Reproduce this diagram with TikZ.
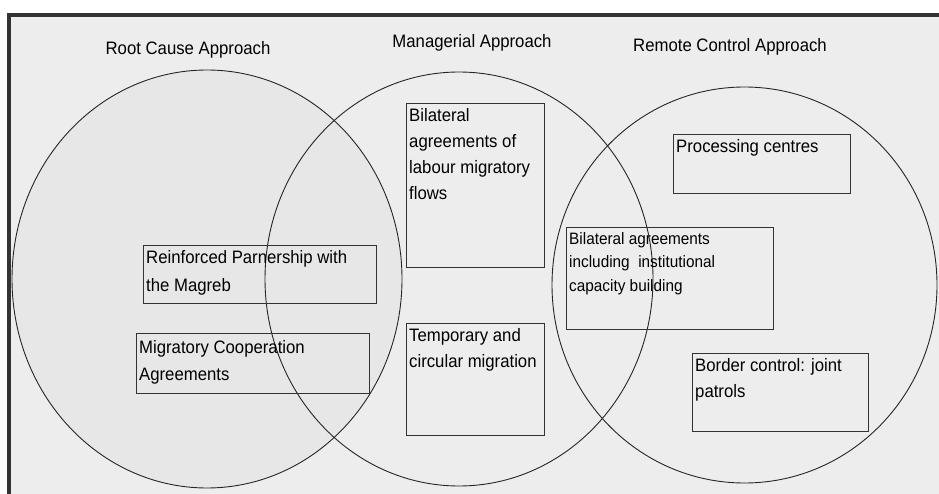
\documentclass[tikz,border=0pt]{standalone}
\usepackage{fontspec}
\setmainfont{Liberation Sans}[FakeStretch=0.93]
\definecolor{bgc}{HTML}{EDEDED}
\definecolor{leftc}{HTML}{E7E7E7}
\definecolor{framec}{HTML}{333333}
\begin{document}
\begin{tikzpicture}[x=1pt,y=-1pt,
  circ/.style={line width=0.9pt, draw=black!85},
  box/.style={draw=black!80, line width=1.3pt, anchor=north west, inner sep=0pt},
  txt/.style={anchor=north west, align=left, inner xsep=3pt, inner ysep=5pt, font=\fontsize{18}{26}\selectfont},
  title/.style={anchor=base, font=\fontsize{18}{22}\selectfont}]
\useasboundingbox (0,0) rectangle (939,494);
\fill[white] (0,0) rectangle (939,494);
\fill[bgc] (9,15) rectangle (939,494);
\fill[leftc] (207,279) ellipse [x radius=195, y radius=209];
% circles
\draw[circ] (207,279) ellipse [x radius=195, y radius=209];
\draw[circ] (459,279) ellipse [x radius=194, y radius=207];
\draw[circ] (744.5,285) ellipse [x radius=192.5, y radius=198];
% frame
\draw[framec, line width=4pt] (9,494) -- (9,15) -- (939,15);
% titles
\node[title] (h1) at (188,55) {Root Cause Approach};
\node[title] (h2) at (472,48) {Managerial Approach};
\node[title] (h3) at (730,52) {Remote Control Approach};
% boxes
\node[box, minimum width=138pt, minimum height=164pt] (b1) at (406,103) {};
\node[txt] (t1) at (b1.north west) {Bilateral\\agreements of\\labour migratory\\flows};
\node[box, minimum width=233pt, minimum height=58pt] (b2) at (143,245) {};
\node[txt, font=\fontsize{18}{28}\selectfont] (t2) at (b2.north west) {Reinforced Parnership with\\the Magreb};
\node[box, minimum width=233pt, minimum height=60pt] (b3) at (136,333) {};
\node[txt, inner ysep=7pt, font=\fontsize{18}{27}\selectfont] (t3) at (b3.north west) {Migratory Cooperation\\Agreements};
\node[box, minimum width=138pt, minimum height=112pt] (b4) at (406,323) {};
\node[txt] (t4) at (b4.north west) {Temporary and\\circular migration};
\node[box, minimum width=177pt, minimum height=59pt] (b5) at (673,134) {};
\node[txt] (t5) at (b5.north west) {Processing centres};
\node[box, minimum width=207pt, minimum height=102pt] (b6) at (566,227) {};
\node[txt, font=\fontsize{16.5}{23.5}\selectfont] (t6) at (b6.north west) {Bilateral agreements\\including\ \ institutional\\capacity building};
\node[box, minimum width=176pt, minimum height=78pt] (b7) at (692,353) {};
\node[txt] (t7) at (b7.north west) {Border control: joint\\patrols};
\end{tikzpicture}
\end{document}
